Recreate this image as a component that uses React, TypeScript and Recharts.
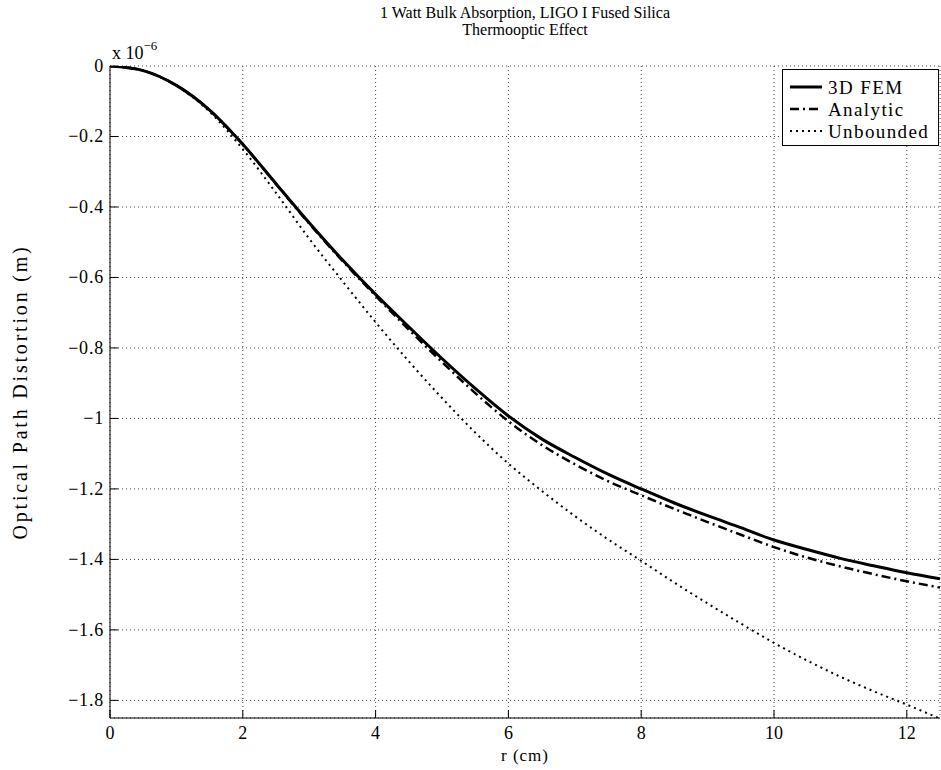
import React from "react";
import { LineChart, Line, XAxis, YAxis, CartesianGrid, Legend } from "recharts";

const rValues = [0, 0.5, 1, 1.5, 2, 2.5, 3, 3.5, 4, 4.5, 5, 5.5, 6, 6.5, 7, 7.5, 8, 8.5, 9, 9.5, 10, 10.5, 11, 11.5, 12, 12.5];
const femValues = [0, -0.013, -0.055, -0.125, -0.222, -0.334, -0.445, -0.55, -0.648, -0.74, -0.83, -0.915, -0.993, -1.058, -1.11, -1.158, -1.2, -1.24, -1.276, -1.31, -1.345, -1.372, -1.397, -1.418, -1.438, -1.455];
const analyticValues = [0, -0.013, -0.055, -0.125, -0.222, -0.335, -0.447, -0.553, -0.652, -0.748, -0.84, -0.928, -1.008, -1.075, -1.13, -1.178, -1.218, -1.257, -1.294, -1.33, -1.365, -1.395, -1.42, -1.442, -1.462, -1.48];
const unboundedValues = [0, -0.013, -0.056, -0.13, -0.236, -0.36, -0.49, -0.61, -0.727, -0.838, -0.942, -1.04, -1.128, -1.205, -1.277, -1.343, -1.404, -1.466, -1.525, -1.582, -1.637, -1.687, -1.733, -1.774, -1.812, -1.852];

const xTicks = [0, 2, 4, 6, 8, 10, 12];
const yTicks = [0, -0.2, -0.4, -0.6, -0.8, -1, -1.2, -1.4, -1.6, -1.8];

const titleLines = ["1 Watt Bulk Absorption, LIGO I Fused Silica", "Thermooptic Effect"];
const xLabel = "r (cm)";
const yLabel = "Optical Path Distortion (m)";

const series = [
  { key: "fem", name: "3D FEM", width: 3, dash: undefined as string | undefined },
  { key: "analytic", name: "Analytic", width: 2.5, dash: "9 4 2 4" },
  { key: "unbounded", name: "Unbounded", width: 2, dash: "2 4" },
];

const data = rValues.map((r, i) => ({
  r,
  fem: femValues[i],
  analytic: analyticValues[i],
  unbounded: unboundedValues[i],
}));

const FONT = '"Liberation Serif", "Times New Roman", serif';
const fmtY = (v: number) => (v === 0 ? "0" : "\u2212" + Math.abs(v));

const LeftTick = (props: any) => {
  const { x, y, payload } = props;
  return (
    <g>
      <line x1={x} x2={x + 8} y1={y} y2={y} stroke="#000" strokeWidth={1} />
      <text x={x - 6} y={y} textAnchor="end" dominantBaseline="central" fontSize={18} letterSpacing={0.8} fontFamily={FONT} fill="#000">
        {fmtY(payload.value)}
      </text>
    </g>
  );
};

const RightTick = (props: any) => {
  const { x, y } = props;
  return <line x1={x} x2={x - 8} y1={y} y2={y} stroke="#000" strokeWidth={1} />;
};

const BottomTick = (props: any) => {
  const { x, y, payload } = props;
  return (
    <g>
      <line x1={x} x2={x} y1={y} y2={y - 8} stroke="#000" strokeWidth={1} />
      <text x={x} y={y + 15} textAnchor="middle" dominantBaseline="central" fontSize={18} fontFamily={FONT} fill="#000">
        {String(payload.value)}
      </text>
    </g>
  );
};

const TopTick = (props: any) => {
  const { x, y } = props;
  return <line x1={x} x2={x} y1={y} y2={y + 8} stroke="#000" strokeWidth={1} />;
};

const renderLegend = () => (
  <div style={{ width: 157, height: 77, border: "1px solid #000", background: "#fff", boxSizing: "border-box" }}>
    <svg width={155} height={75} style={{ display: "block" }}>
      {series.map((s, i) => (
        <g key={s.key}>
          <line
            x1={7}
            x2={39}
            y1={17 + i * 22}
            y2={17 + i * 22}
            stroke="#000"
            strokeWidth={s.width}
            strokeDasharray={s.dash}
          />
          <text x={45} y={17 + i * 22} dominantBaseline="central" fontSize={19} letterSpacing={1.4} fontFamily={FONT} fill="#000">
            {s.name}
          </text>
        </g>
      ))}
    </svg>
  </div>
);

export default function App() {
  return (
    <div style={{ position: "absolute", left: 0, top: 0, width: 941, height: 770, background: "#fff", fontFamily: FONT }}>
      <div style={{ position: "absolute", left: 0, width: 1050, top: 4, textAlign: "center", fontSize: 16, lineHeight: "17px", color: "#000" }}>
        {titleLines.map((t) => (
          <div key={t}>{t}</div>
        ))}
      </div>
      <div style={{ position: "absolute", left: 112, top: 40, fontSize: 18, color: "#000", whiteSpace: "nowrap" }}>
        x 10<sup style={{ fontSize: 13, position: "relative", top: -2 }}>{"\u22126"}</sup>
      </div>
      <LineChart width={941} height={770} data={data} margin={{ top: 66, right: 1, bottom: 12, left: 50 }}>
        <CartesianGrid stroke="#444" strokeDasharray="1 3" strokeWidth={1} />
        <XAxis
          xAxisId={0}
          dataKey="r"
          type="number"
          domain={[0, 12.5]}
          ticks={xTicks}
          allowDataOverflow
          height={40}
          tickSize={0}
          tickMargin={0}
          tickLine={false}
          tick={<BottomTick />}
          stroke="#000"
          label={{ value: xLabel, position: "insideBottom", offset: -3, fontSize: 17, letterSpacing: 1, fontFamily: FONT, fill: "#000" }}
        />
        <XAxis
          xAxisId="top"
          orientation="top"
          dataKey="r"
          type="number"
          domain={[0, 12.5]}
          ticks={xTicks}
          allowDataOverflow
          height={0}
          tickSize={0}
          tickMargin={0}
          tickLine={false}
          tick={<TopTick />}
          stroke="#000"
        />
        <YAxis
          yAxisId={0}
          type="number"
          domain={[-1.85, 0]}
          ticks={yTicks}
          allowDataOverflow
          width={60}
          tickSize={0}
          tickMargin={0}
          tickLine={false}
          tick={<LeftTick />}
          stroke="#000"
          label={{ value: yLabel, angle: -90, position: "center", dx: -60, fontSize: 20, letterSpacing: 2.8, fontFamily: FONT, fill: "#000" }}
        />
        <YAxis
          yAxisId="right"
          orientation="right"
          type="number"
          domain={[-1.85, 0]}
          ticks={yTicks}
          allowDataOverflow
          width={0}
          tickSize={0}
          tickMargin={0}
          tickLine={false}
          tick={<RightTick />}
          stroke="#000"
        />
        {series.map((s) => (
          <Line
            key={s.key}
            dataKey={s.key}
            name={s.name}
            type="monotone"
            stroke="#000"
            strokeWidth={s.width}
            strokeDasharray={s.dash}
            dot={false}
            activeDot={false}
            isAnimationActive={false}
          />
        ))}
        <Legend
          layout="horizontal"
          verticalAlign="middle"
          align="center"
          content={renderLegend}
          wrapperStyle={{ position: "absolute", left: 782, top: 69, width: 157, height: 77 }}
        />
      </LineChart>
    </div>
  );
}
